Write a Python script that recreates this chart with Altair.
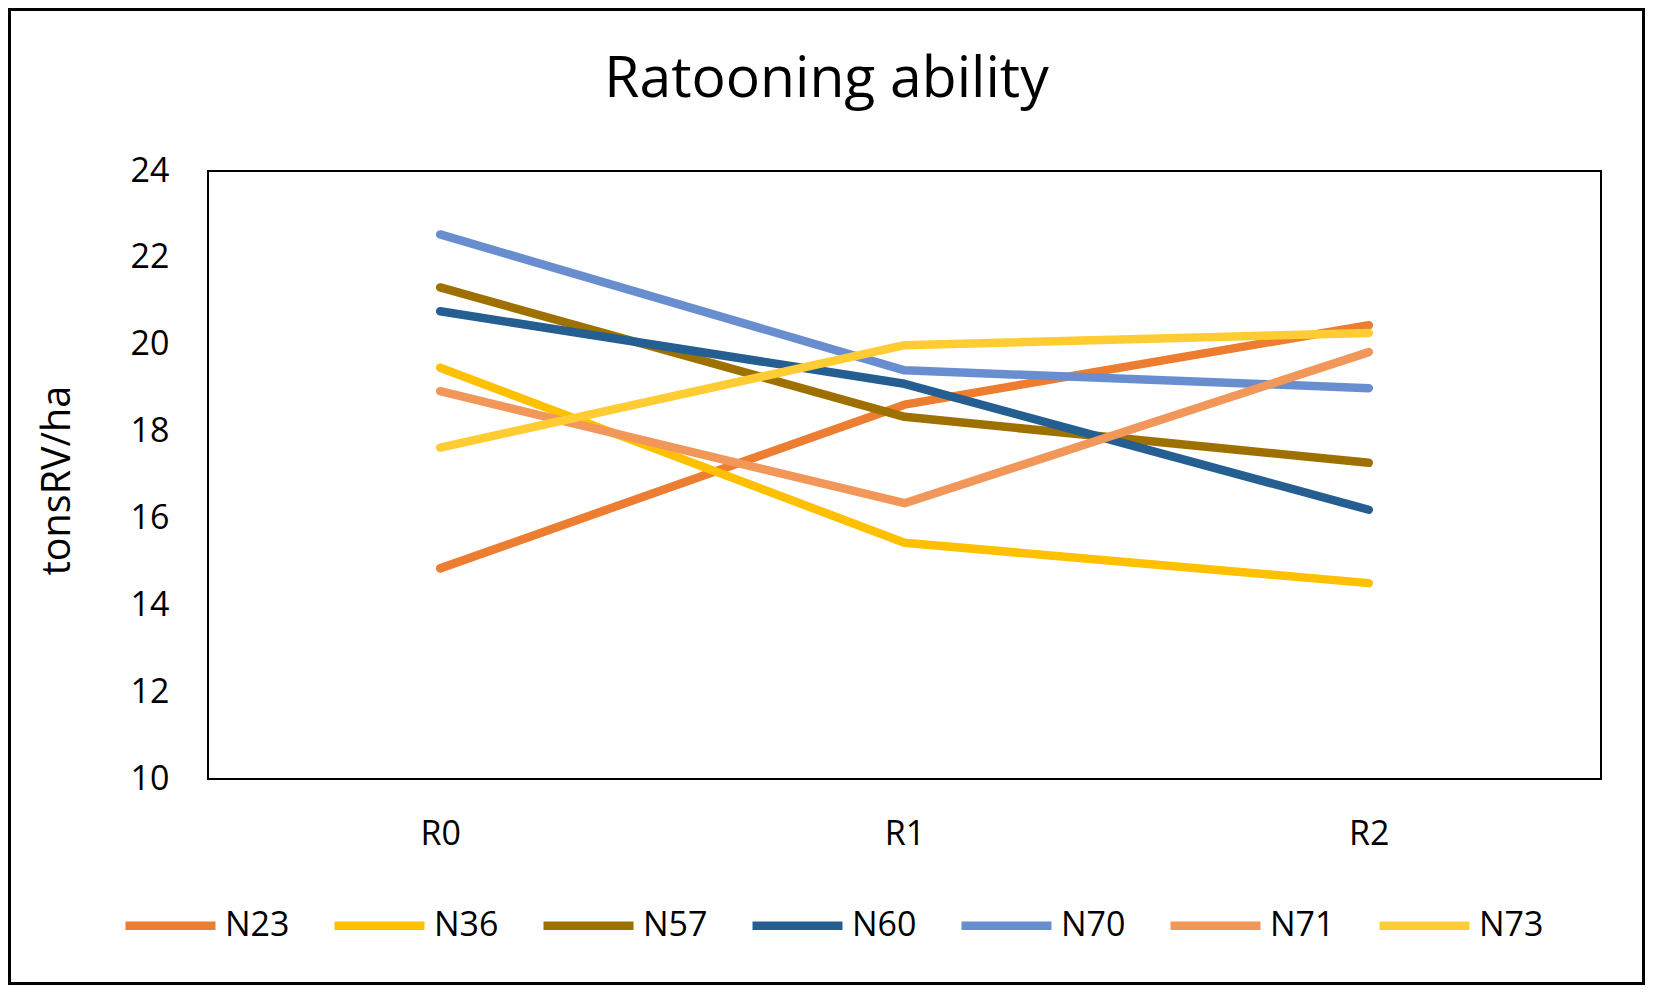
import altair as alt
import pandas as pd

stages = ["R0", "R1", "R2"]
varieties = ["N23", "N36", "N57", "N60", "N70", "N71", "N73"]
colors = ["#ED7D31", "#FFC000", "#9E7000", "#255E91", "#698ED0", "#F1975A", "#FFCD33"]

N23 = [14.85, 18.62, 20.45]
N36 = [19.47, 15.44, 14.51]
N57 = [21.32, 18.34, 17.28]
N60 = [20.77, 19.10, 16.20]
N70 = [22.54, 19.41, 19.00]
N71 = [18.93, 16.35, 19.83]
N73 = [17.63, 19.99, 20.27]

series = {"N23": N23, "N36": N36, "N57": N57, "N60": N60, "N70": N70, "N71": N71, "N73": N73}
rows = []
for v in varieties:
    for s, val in zip(stages, series[v]):
        rows.append({"stage": s, "variety": v, "value": val})
df = pd.DataFrame(rows)

FONT = "Open Sans"
W, H = 1393, 608
PL, PT, PR, PB = 200, 163, 44, 206

lines = alt.Chart(df).mark_line(strokeWidth=8.5, strokeCap="round", strokeJoin="round").encode(
    x=alt.X("stage:N", sort=stages, scale=alt.Scale(type="point", padding=0.5),
            axis=alt.Axis(title=None, labelAngle=0, ticks=False, domain=False, grid=False,
                          labelPadding=38, labelFontSize=34, labelFont=FONT, labelColor="#000000")),
    y=alt.Y("value:Q", scale=alt.Scale(domain=[10, 24], nice=False, zero=False),
            axis=alt.Axis(title="tonsRV/ha", values=[10, 12, 14, 16, 18, 20, 22, 24], ticks=False,
                          domain=False, grid=False, labelPadding=39, labelFontSize=34, labelFont=FONT,
                          labelColor="#000000", titleFont=FONT, titleFontSize=39.5,
                          titleFontWeight="normal", titleColor="#000000", titleX=-151, titleY=309,
                          titleBaseline="middle", titleAlign="center", titleAngle=-90)),
    color=alt.Color("variety:N", sort=varieties,
                    scale=alt.Scale(domain=varieties, range=colors),
                    legend=alt.Legend(title=None, orient="none", direction="horizontal",
                                      columns=7, legendX=-87, legendY=705, padding=0,
                                      symbolType="stroke", symbolSize=8100, symbolStrokeWidth=8.5,
                                      labelOffset=5, columnPadding=27, gridAlign="all",
                                      labelFont=FONT, labelFontSize=34, labelColor="#000000")),
)

border = alt.Chart(alt.Data(values=[{}])).mark_rect(fill=None, stroke="#000000", strokeWidth=3).encode(
    x=alt.value(-PL + 1.5), x2=alt.value(W + PR - 1.5),
    y=alt.value(-PT + 1.5), y2=alt.value(H + PB - 1.5),
)

chart = alt.layer(lines, border).properties(
    width=W, height=H,
    autosize=alt.AutoSizeParams(type="none"),
    padding={"left": PL, "top": PT, "right": PR, "bottom": PB},
    title=alt.TitleParams("Ratooning ability", font=FONT, fontSize=57, fontWeight="normal",
                          color="#000000", anchor="middle", frame="group", baseline="alphabetic",
                          offset=-146, dx=-78),
).configure(background="#ffffff").configure_view(stroke="#000000", strokeWidth=2)

chart.save("out.html", embed_options={"renderer": "svg", "actions": False})
